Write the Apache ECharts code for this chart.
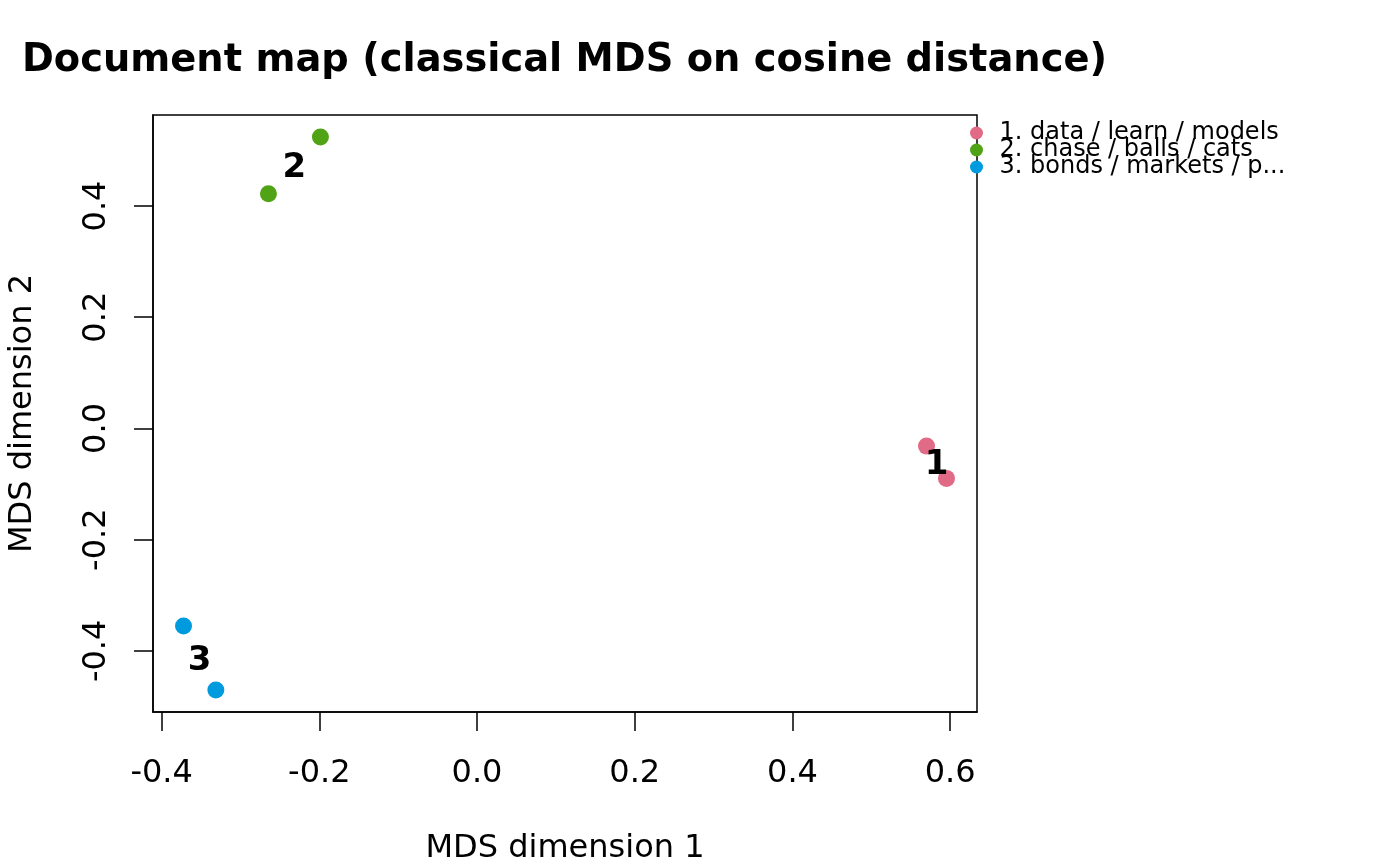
<!DOCTYPE html>
<html>
<head>
<meta charset="utf-8">
<script src="https://cdn.jsdelivr.net/npm/echarts@6/dist/echarts.min.js"></script>
<style>
html,body{margin:0;padding:0;background:#fff;}
#chart{width:1400px;height:866px;}
</style>
</head>
<body>
<div id="chart"></div>
<script>
// ---- data ----
const titleText = 'Document map (classical MDS on cosine distance)';
const xAxisTitle = 'MDS dimension 1';
const yAxisTitle = 'MDS dimension 2';
const clusterNames = ['1. data / learn / models', '2. chase / balls / cats', '3. bonds / markets / p...'];
const clusterLabels = ['1', '2', '3'];
const docCluster = [1, 1, 2, 2, 3, 3];
const docX = [0.5700, 0.5953, -0.2645, -0.1986, -0.3722, -0.3312];
const docY = [-0.0318, -0.0898, 0.4221, 0.5238, -0.3551, -0.4701];
const xTicks = [-0.4, -0.2, 0.0, 0.2, 0.4, 0.6];
const yTicks = [-0.4, -0.2, 0.0, 0.2, 0.4];

// ---- styles ----
const clusterColors = ['#E16A86', '#50A315', '#009ADE'];
const FONT = 'DejaVu Sans';

// R-style limits: data range extended by 4%
function rLimits(arr) {
  const lo = Math.min(...arr), hi = Math.max(...arr);
  const d = (hi - lo) * 0.04;
  return [lo - d, hi + d];
}
const xLim = rLimits(docX);
const yLim = rLimits(docY);

const pointSeries = clusterNames.map((name, ci) => {
  const data = [];
  docCluster.forEach((c, i) => { if (c === ci + 1) data.push([docX[i], docY[i]]); });
  return {
    name: name,
    type: 'scatter',
    data: data,
    symbol: 'circle',
    symbolSize: 17,
    itemStyle: { color: clusterColors[ci], opacity: 1 },
    z: 3
  };
});

// centroid labels
const centroidData = clusterLabels.map((lab, ci) => {
  let sx = 0, sy = 0, n = 0;
  docCluster.forEach((c, i) => { if (c === ci + 1) { sx += docX[i]; sy += docY[i]; n++; } });
  return { value: [sx / n, sy / n], lab: lab };
});

const labelSeries = {
  name: '__labels',
  type: 'scatter',
  data: centroidData,
  symbolSize: 2,
  itemStyle: { color: 'rgba(0,0,0,0)' },
  label: {
    show: true,
    position: 'inside',
    offset: [0, 3],
    formatter: p => p.data.lab,
    fontFamily: FONT,
    fontWeight: 'bold',
    fontSize: 34,
    color: '#000',
    opacity: 1
  },
  z: 5,
  silent: true
};

const axisLineStyle = { color: '#000', width: 1.5 };

const chart = echarts.init(document.getElementById('chart'), null, { renderer: 'canvas' });
chart.setOption({
  animation: false,
  backgroundColor: '#fff',
  title: {
    text: titleText,
    left: 22,
    top: 42,
    padding: 0,
    textStyle: { fontFamily: FONT, fontWeight: 'bold', fontSize: 38.4, color: '#000' }
  },
  legend: {
    orient: 'vertical',
    left: 970,
    top: 121,
    padding: 0,
    itemWidth: 36,
    itemHeight: 13,
    itemGap: -7,
    icon: 'circle',
    selectedMode: false,
    data: clusterNames,
    textStyle: { fontFamily: FONT, fontSize: 24, color: '#000' }
  },
  grid: {
    left: 153, right: 423, top: 115, bottom: 154,
    outerBoundsMode: 'none',
    containLabel: false,
    show: true, borderColor: '#000', borderWidth: 1.5, backgroundColor: 'transparent'
  },
  xAxis: {
    type: 'value',
    min: xLim[0], max: xLim[1],
    splitLine: { show: false },
    axisLine: { show: true, onZero: false, lineStyle: axisLineStyle },
    axisTick: { show: true, inside: false, length: 19, customValues: xTicks, lineStyle: axisLineStyle },
    axisLabel: {
      customValues: xTicks,
      formatter: v => v.toFixed(1),
      fontFamily: FONT, fontSize: 32, color: '#000', margin: 46
    },
    name: xAxisTitle,
    nameLocation: 'middle',
    nameGap: 121,
    nameTextStyle: { fontFamily: FONT, fontSize: 32, color: '#000' }
  },
  yAxis: {
    type: 'value',
    min: yLim[0], max: yLim[1],
    splitLine: { show: false },
    axisLine: { show: true, onZero: false, lineStyle: axisLineStyle },
    axisTick: { show: true, inside: false, length: 19, customValues: yTicks, lineStyle: axisLineStyle },
    axisLabel: {
      customValues: yTicks,
      rotate: 90,
      formatter: v => v.toFixed(1),
      fontFamily: FONT, fontSize: 32, color: '#000', margin: 40
    },
    name: yAxisTitle,
    nameLocation: 'middle',
    nameGap: 114,
    nameRotate: 90,
    nameTextStyle: { fontFamily: FONT, fontSize: 32, color: '#000' }
  },
  series: pointSeries.concat([labelSeries])
});
</script>
</body>
</html>
